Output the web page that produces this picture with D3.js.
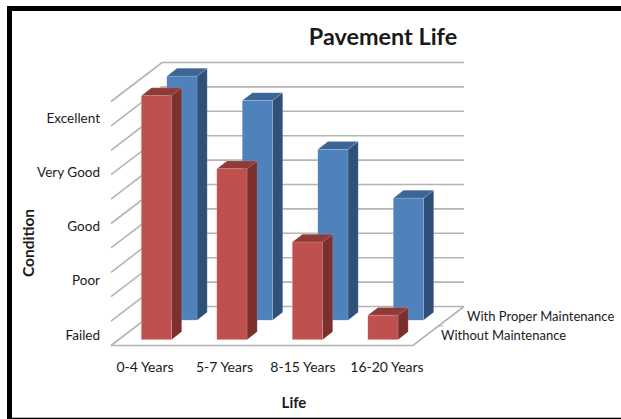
<!DOCTYPE html>
<html>
<head>
<meta charset="utf-8">
<script src="https://cdn.jsdelivr.net/npm/d3@7"></script>
<style>
	html, body { margin: 0; padding: 0; background: #fff; overflow: hidden; }
	text { font-family: Lato, "Open Sans", sans-serif; fill: #1a1a1a; }
</style>
</head>
<body>
<div id="chart"></div>
<script>
var categories = ["0-4 Years", "5-7 Years", "8-15 Years", "16-20 Years"];
var seriesNames = ["Without Maintenance", "With Proper Maintenance"];
var withoutMaintenance = [10, 7, 4, 1];
var withMaintenance = [10, 9, 7, 5];
var conditionLabels = ["Failed", "Poor", "Good", "Very Good", "Excellent"];
var gridLevels = [0, 1, 2, 3, 4, 5, 6, 7, 8, 9, 10];

var width = 621, height = 419;

var svg = d3.select("#chart")
	.append("svg")
	.attr("width", width)
	.attr("height", height);

// plain white page with the thick black frame of the screenshot
svg.append("rect")
	.attr("x", 9.5).attr("y", 8.5)
	.attr("width", 640).attr("height", 411.7)
	.attr("fill", "#fff")
	.attr("stroke", "#000")
	.attr("stroke-width", 5);

var xScale = d3.scaleBand()
	.domain(categories)
	.range([111, 413])
	.paddingInner(0.6)
	.paddingOuter(0.3);

var yScale = d3.scaleLinear()
	.domain([0, 10])
	.range([345.5, 101.5]);

// depth of the floor, 0 is the front edge and 1 the back wall
var depthX = d3.scaleLinear().domain([0, 1]).range([0, 51]);
var depthY = d3.scaleLinear().domain([0, 1]).range([0, -39]);

var depthScale = d3.scaleBand()
	.domain(seriesNames)
	.range([0, 1])
	.paddingInner(0.6)
	.paddingOuter(0.3);

function px(x, d) { return x + depthX(d); }
function py(v, d) { return yScale(v) + depthY(d); }

// walls and floor
var grid = svg.append("g")
	.attr("fill", "none")
	.attr("stroke", "#b4b4b4")
	.attr("stroke-width", 1.6);

gridLevels.forEach(function (v) {
	grid.append("path")
		.attr("d", d3.line()([
			[px(111, 0), py(v, 0)],
			[px(111, 1), py(v, 1)],
			[px(413, 1), py(v, 1)]
		]));
});

grid.append("path")
	.attr("d", d3.line()([
		[px(111, 0), py(0, 0)],
		[px(413, 0), py(0, 0)],
		[px(413, 1), py(0, 1)]
	]));

// tick between the two depth rows
grid.append("line")
	.attr("x1", px(413, 0.5)).attr("y1", py(0, 0.5))
	.attr("x2", px(413, 0.5) + 5).attr("y2", py(0, 0.5))
	.attr("stroke-width", 1);

function drawBars(name, values, colors) {
	var d0 = depthScale(name);
	var d1 = d0 + depthScale.bandwidth();
	var g = svg.append("g")
		.attr("stroke", "#fff")
		.attr("stroke-opacity", 0.2)
		.attr("stroke-width", 0.7);

	categories.forEach(function (c, i) {
		var x0 = xScale(c);
		var x1 = x0 + xScale.bandwidth();
		var v = values[i];

		g.append("polygon")
			.attr("fill", colors[2])
			.attr("points", [
				[px(x1, d0), py(0, d0)], [px(x1, d1), py(0, d1)],
				[px(x1, d1), py(v, d1)], [px(x1, d0), py(v, d0)]
			].join(" "));
		g.append("polygon")
			.attr("fill", colors[1])
			.attr("points", [
				[px(x0, d0), py(v, d0)], [px(x1, d0), py(v, d0)],
				[px(x1, d1), py(v, d1)], [px(x0, d1), py(v, d1)]
			].join(" "));
		g.append("rect")
			.attr("fill", colors[0])
			.attr("x", px(x0, d0))
			.attr("y", py(v, d0))
			.attr("width", xScale.bandwidth())
			.attr("height", py(0, d0) - py(v, d0));
	});
}

// back row first so the front row covers it
drawBars(seriesNames[1], withMaintenance, ["#4F81BD", "#3C6494", "#2F5079"]);
drawBars(seriesNames[0], withoutMaintenance, ["#C0504D", "#8F3A37", "#7C2F2D"]);

// labels
var condY = d3.scalePoint().domain(conditionLabels).range([335, 118]);
svg.selectAll(".cond")
	.data(conditionLabels)
	.enter()
	.append("text")
	.attr("x", 100)
	.attr("y", function (d) { return condY(d); })
	.attr("dy", "0.35em")
	.attr("text-anchor", "end")
	.attr("font-size", "13.5px")
	.text(function (d) { return d; });

// the labels were placed by hand in the original, they do not follow the bars
var catX = d3.scaleOrdinal().domain(categories).range([145, 224.5, 303, 387]);
svg.selectAll(".cat")
	.data(categories)
	.enter()
	.append("text")
	.attr("x", function (d) { return catX(d); })
	.attr("y", 367)
	.attr("dy", "0.35em")
	.attr("text-anchor", "middle")
	.attr("font-size", "14px")
	.text(function (d) { return d; });

svg.append("text")
	.attr("x", 441).attr("y", 335)
	.attr("dy", "0.35em")
	.attr("font-size", "13px")
	.text(seriesNames[0]);

svg.append("text")
	.attr("x", 467).attr("y", 316)
	.attr("dy", "0.35em")
	.attr("font-size", "13px")
	.text(seriesNames[1]);

svg.append("text")
	.attr("x", 383).attr("y", 37)
	.attr("dy", "0.35em")
	.attr("text-anchor", "middle")
	.attr("font-size", "23.4px")
	.attr("font-weight", "bold")
	.text("Pavement Life");

svg.append("text")
	.attr("x", 294).attr("y", 403)
	.attr("dy", "0.35em")
	.attr("text-anchor", "middle")
	.attr("font-size", "15px")
	.attr("font-weight", "bold")
	.text("Life");

svg.append("text")
	.attr("transform", "translate(29,243) rotate(-90)")
	.attr("dy", "0.35em")
	.attr("text-anchor", "middle")
	.attr("font-size", "15.5px")
	.attr("font-weight", "bold")
	.text("Condition");
</script>
</body>
</html>
